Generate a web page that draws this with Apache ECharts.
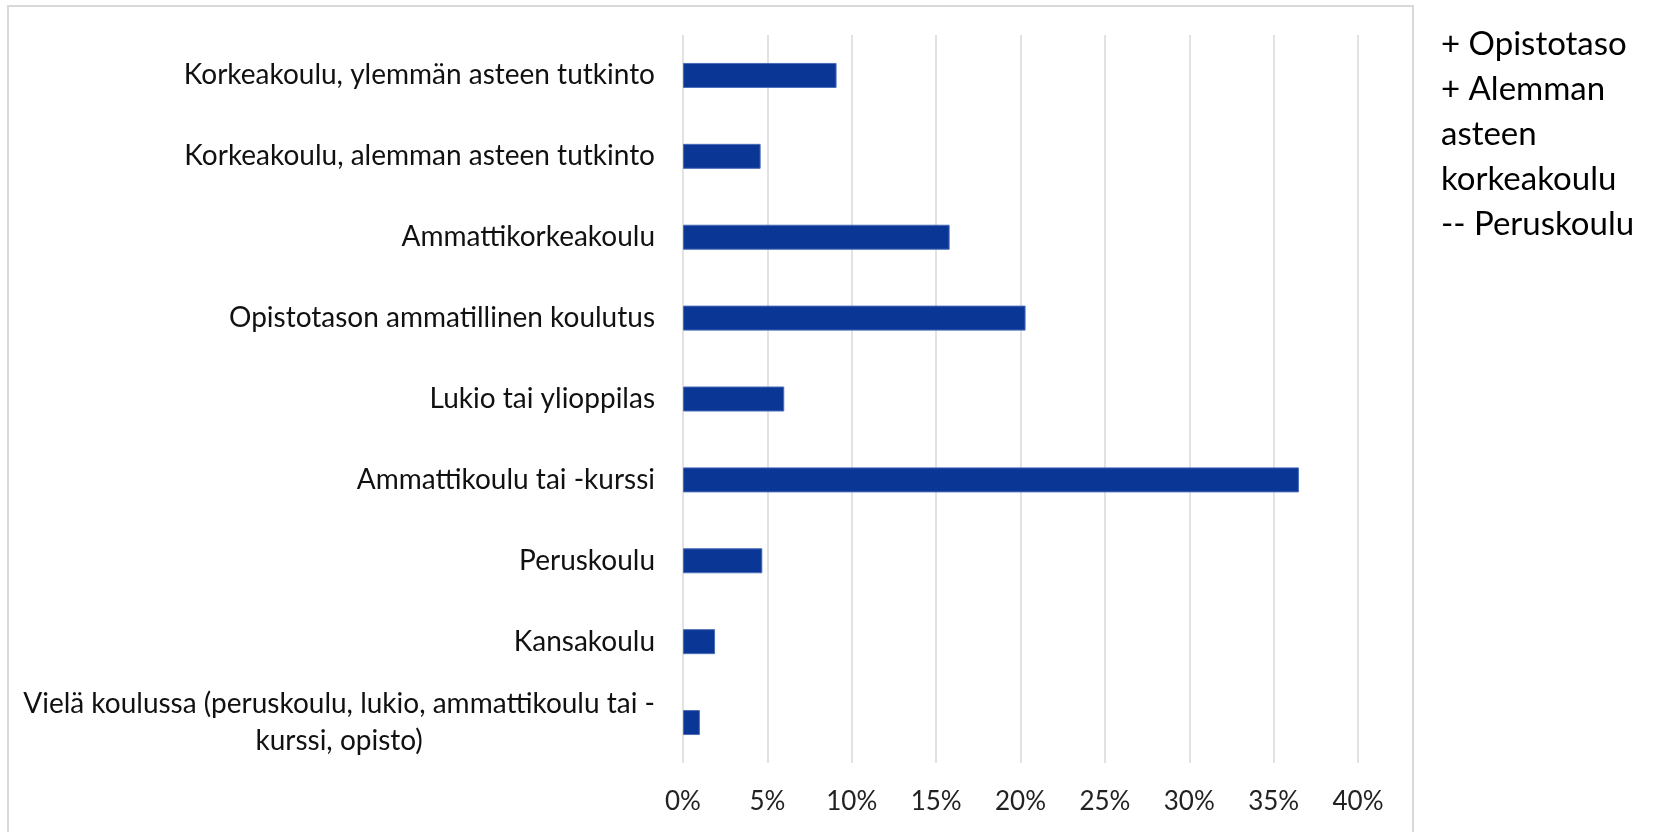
<!DOCTYPE html>
<html>
<head>
<meta charset="utf-8">
<script src="https://cdn.jsdelivr.net/npm/echarts@6/dist/echarts.min.js"></script>
<style>
  html, body { margin: 0; padding: 0; background: #fff; }
  #myChart { width: 1656px; height: 832px; }
</style>
</head>
<body>
<div id="myChart"></div>
<script>
// koulutusluokat ylhäältä alas
let categories = [
  'Korkeakoulu, ylemmän asteen tutkinto',
  'Korkeakoulu, alemman asteen tutkinto',
  'Ammattikorkeakoulu',
  'Opistotason ammatillinen koulutus',
  'Lukio tai ylioppilas',
  'Ammattikoulu tai -kurssi',
  'Peruskoulu',
  'Kansakoulu',
  'Vielä koulussa (peruskoulu, lukio, ammattikoulu tai -\nkurssi, opisto)'
]
let values = [9.1, 4.6, 15.8, 20.3, 6.0, 36.5, 4.7, 1.9, 1.0]
let sideNotes = ['+ Opistotaso', '+ Alemman', 'asteen', 'korkeakoulu', '-- Peruskoulu']

let font = 'Lato'

let option = {
  backgroundColor: '#fff',
  animation: false,
  grid: {
    left: 683,
    right: 298,
    top: 35,
    bottom: 69
  },
  xAxis: {
    type: 'value',
    min: 0,
    max: 40,
    interval: 5,
    axisLine: { show: false },
    axisTick: { show: false },
    splitLine: { lineStyle: { color: '#d9d9d9', width: 1.5 } },
    axisLabel: {
      formatter: '{value}%',
      color: '#222',
      fontFamily: font,
      fontSize: 26,
      margin: 26
    }
  },
  yAxis: {
    type: 'category',
    inverse: true,
    data: categories,
    axisLine: { show: false },
    axisTick: { show: false },
    axisLabel: {
      color: '#111',
      fontFamily: font,
      fontSize: 28,
      margin: 28,
      formatter: function (v) {
        if (v.indexOf('\n') >= 0) {
          return v.split('\n').map(function (s) { return '{c|' + s + '}' }).join('\n')
        }
        return v
      },
      rich: {
        c: { align: 'center', fontFamily: font, fontSize: 28, color: '#111', lineHeight: 37 }
      }
    }
  },
  series: [
    {
      type: 'bar',
      data: values,
      barWidth: 25,
      itemStyle: { color: '#0a3695', borderColor: '#4a6cb8', borderWidth: 1 }
    }
  ],
  graphic: [
    {
      type: 'rect',
      shape: { x: 8, y: 6, width: 1405, height: 900 },
      style: { fill: 'none', stroke: '#d9d9d9', lineWidth: 2 },
      silent: true
    },
    {
      type: 'text',
      left: 1441,
      top: 22,
      style: {
        text: sideNotes.join('\n'),
        fontFamily: font,
        fontSize: 33,
        lineHeight: 45,
        fill: '#000'
      }
    }
  ]
}

let myChart = echarts.init(document.getElementById('myChart'))
myChart.setOption(option)
</script>
</body>
</html>
